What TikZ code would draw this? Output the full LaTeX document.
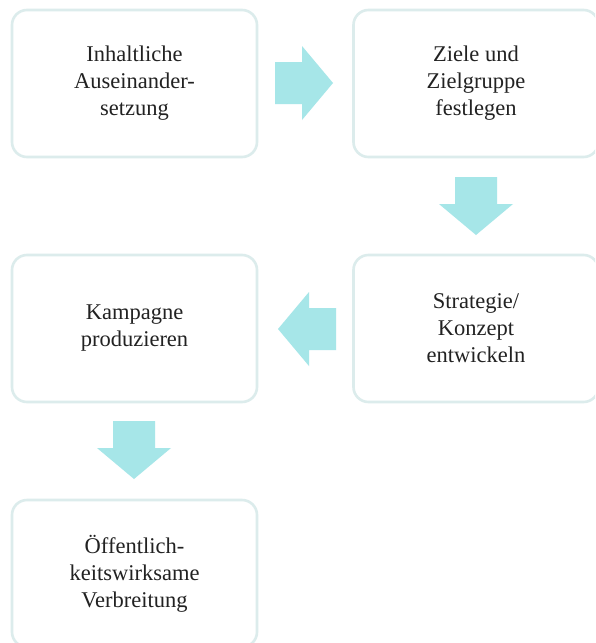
\documentclass[tikz,border=0pt]{standalone}
\usepackage{fontspec}
\setmainfont{Liberation Serif}
\newfontfamily\boxfont{Liberation Serif}
\definecolor{boxline}{HTML}{DCECEC}
\definecolor{flowcol}{HTML}{A6E6E8}
\definecolor{txtcol}{HTML}{222222}
\tikzset{
  stagebox/.style={draw=boxline,line width=2.6pt,rounded corners=15pt,fill=white,
    minimum width=245pt,minimum height=147pt,align=center,text=txtcol,
    font=\boxfont\fontsize{22.5}{27}\selectfont},
  pics/flowarrow/.style={code={
    \fill[flowcol] (0,-21) -- (27,-21) -- (27,-37) -- (58,0) -- (27,37) -- (27,21) -- (0,21) -- cycle;
  }}
}
\begin{document}
\begin{tikzpicture}[x=1pt,y=-1pt]
  \clip (0,0) rectangle (595,643);
  \fill[white] (0,0) rectangle (595,643);

  \node[stagebox] (inhalt) at (134.5,83.5) {Inhaltliche\\Auseinander-\\setzung};
  \node[stagebox] (ziele) at (476,83.5) {Ziele und\\Zielgruppe\\festlegen};
  \node[stagebox] (strategie) at (476,328.5) {Strategie/\\Konzept\\entwickeln};
  \node[stagebox] (kampagne) at (134.5,328.5) {Kampagne\\produzieren};
  \node[stagebox] (verbreitung) at (134.5,573.5) {Öffentlich-\\keitswirksame\\Verbreitung};

  \pic (a1) at (275,83) {flowarrow};
  \pic[rotate=-90] (a2) at (476,177) {flowarrow};
  \pic[rotate=180] (a3) at (336,329) {flowarrow};
  \pic[rotate=-90] (a4) at (134,421) {flowarrow};
\end{tikzpicture}
\end{document}
